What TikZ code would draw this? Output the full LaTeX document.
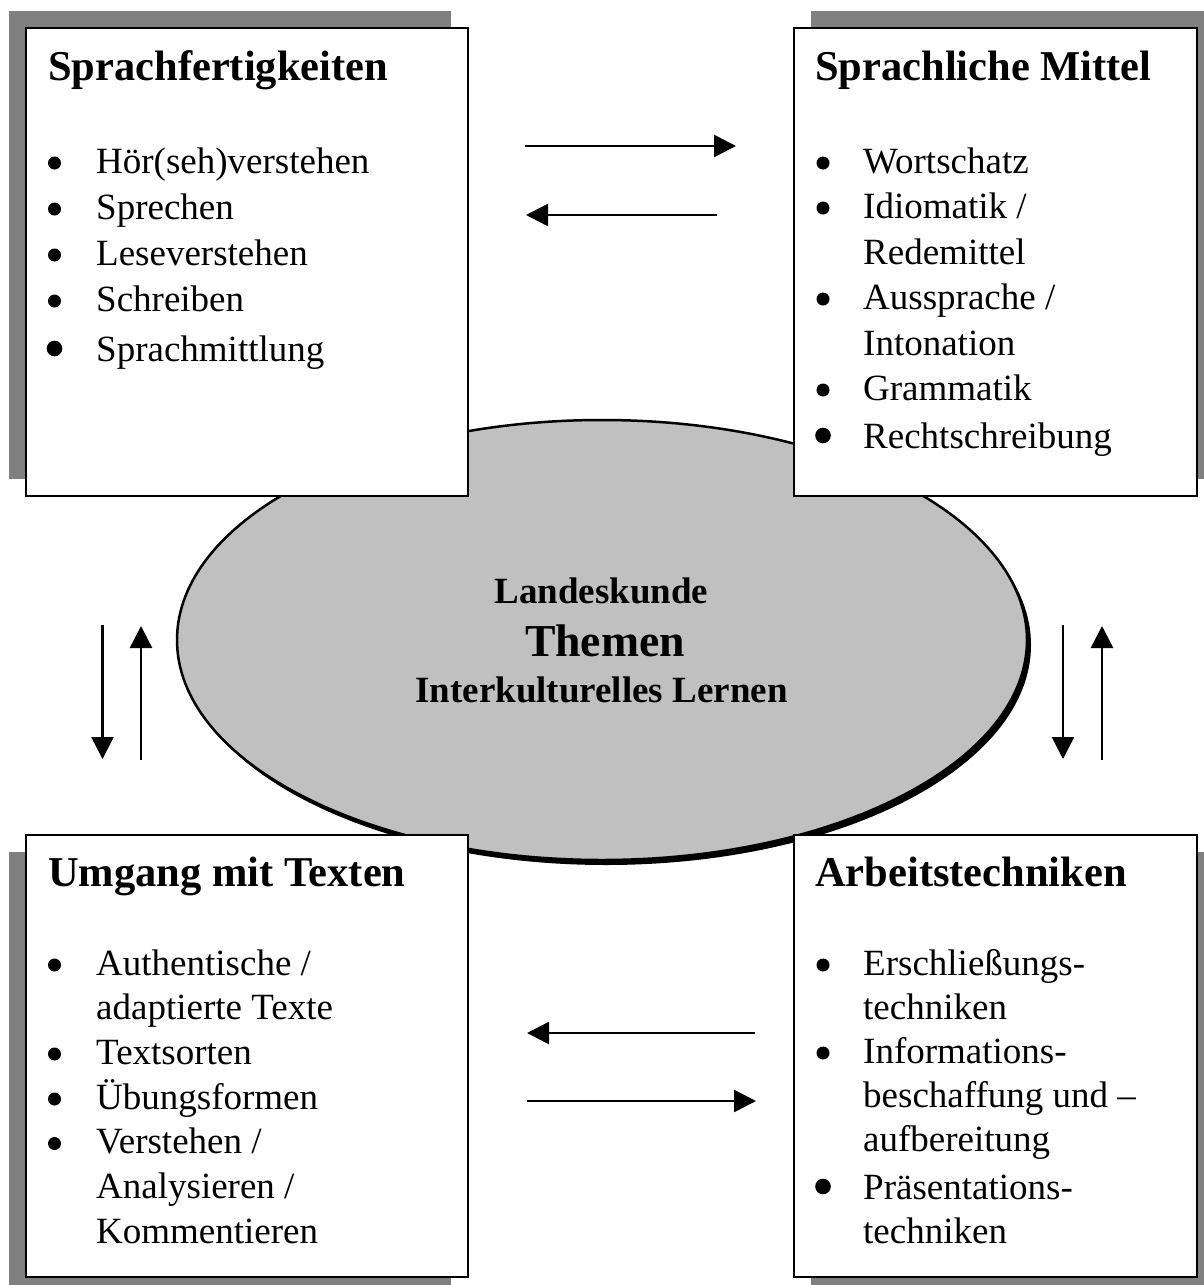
\documentclass[tikz,border=0pt]{standalone}
\usepackage{fontspec}
\setmainfont{Liberation Serif}
\usetikzlibrary{arrows.meta}
\definecolor{shadowgray}{HTML}{808080}
\definecolor{ellgray}{HTML}{C0C0C0}
\tikzset{
  boxshadow/.style={fill=shadowgray, draw=none},
  boxframe/.style={fill=white, draw=black, line width=1.5pt},
  title/.style={anchor=base west, inner sep=0pt, font=\fontsize{42.5}{50}\selectfont\bfseries},
  item/.style={anchor=base west, inner sep=0pt, font=\fontsize{37}{46}\selectfont},
  ctext/.style={anchor=base, inner sep=0pt, font=\fontsize{37}{46}\selectfont\bfseries},
  bigtext/.style={anchor=base, inner sep=0pt, font=\fontsize{45.7}{52}\selectfont\bfseries},
  flow/.style={line width=2.5pt, -{Triangle[length=22pt,width=22pt]}},
}
\begin{document}
\begin{tikzpicture}[x=1pt,y=-1pt]
\useasboundingbox (0,0) rectangle (1204,1285);
\clip (0,0) rectangle (1204,1285);
\fill[white] (0,0) rectangle (1204,1285);

% central ellipse
\fill[black] (606,645) ellipse [x radius=425, y radius=220];
\draw[fill=ellgray, draw=black, line width=2.5pt] (602,640) ellipse [x radius=425, y radius=220];
\node[ctext] (landeskunde) at (601.5,603) {Landeskunde};
\node[bigtext] (themen) at (605,656) {Themen};
\node[ctext] (interkult) at (601.5,702) {Interkulturelles Lernen};

% shadows
\path[boxshadow] (9,11) rectangle (451,479);
\path[boxshadow] (811,11) rectangle (1214,479);
\path[boxshadow] (9,852) rectangle (451,1294);
\path[boxshadow] (811,852) rectangle (1214,1294);

% boxes
\path[boxframe] (26,28) rectangle (468,496);
\path[boxframe] (794,28) rectangle (1197,496);
\path[boxframe] (26,835) rectangle (468,1277);
\path[boxframe] (794,835) rectangle (1197,1277);

% top-left box
\node[title] (t1) at (48,80) {Sprachfertigkeiten};
\node[item] (a1) at (96,173) {Hör(seh)verstehen};
\node[item] (a2) at (96,219) {Sprechen};
\node[item] (a3) at (96,265) {Leseverstehen};
\node[item] (a4) at (96,311) {Schreiben};
\node[item] (a5) at (96,361) {Sprachmittlung};
\foreach \yy in {173,219,265,311} \fill (54.5,\yy-10) circle (6.5);
\fill (54.5,361-12.5) circle (7.8);

% top-right box
\node[title] (t2) at (815,80) {Sprachliche Mittel};
\node[item] (b1) at (863,173) {Wortschatz};
\node[item] (b2) at (863,218) {Idiomatik /};
\node[item] (b3) at (863,264) {Redemittel};
\node[item] (b4) at (863,309) {Aussprache /};
\node[item] (b5) at (863,355) {Intonation};
\node[item] (b6) at (863,400) {Grammatik};
\node[item] (b7) at (863,448) {Rechtschreibung};
\foreach \yy in {173,218,309,400} \fill (823,\yy-10) circle (6.5);
\fill (823,448-12.5) circle (7.8);

% bottom-left box
\node[title] (t3) at (48,886) {Umgang mit Texten};
\node[item] (c1) at (96,975) {Authentische /};
\node[item] (c2) at (96,1019.5) {adaptierte Texte};
\node[item] (c3) at (96,1064) {Textsorten};
\node[item] (c4) at (96,1109) {Übungsformen};
\node[item] (c5) at (96,1153.5) {Verstehen /};
\node[item] (c6) at (96,1198) {Analysieren /};
\node[item] (c7) at (96,1243) {Kommentieren};
\foreach \yy in {975,1064,1109,1153.5} \fill (54.5,\yy-10) circle (6.5);

% bottom-right box
\node[title] (t4) at (815,886) {Arbeitstechniken};
\node[item] (d1) at (863,975) {Erschließungs-};
\node[item] (d2) at (863,1019) {techniken};
\node[item] (d3) at (863,1063) {Informations-};
\node[item] (d4) at (863,1107) {beschaffung und –};
\node[item] (d5) at (863,1151) {aufbereitung};
\node[item] (d6) at (863,1199) {Präsentations-};
\node[item] (d7) at (863,1243) {techniken};
\foreach \yy in {975,1063} \fill (823,\yy-10) circle (6.5);
\fill (823,1199-12.5) circle (7.8);

% arrow end points
\coordinate (p1s) at (525,146); \coordinate (p1e) at (736,146);
\coordinate (p2s) at (717,215); \coordinate (p2e) at (526,215);
\coordinate (p3s) at (755,1033); \coordinate (p3e) at (527,1033);
\coordinate (p4s) at (527,1101); \coordinate (p4e) at (756,1101);
\coordinate (p5s) at (102.5,625); \coordinate (p5e) at (102.5,759);
\coordinate (p6s) at (141,760); \coordinate (p6e) at (141,626);
\coordinate (p7s) at (1063,625); \coordinate (p7e) at (1063,759);
\coordinate (p8s) at (1102,760); \coordinate (p8e) at (1102,626);

\draw[flow] (p1s) -- (p1e);
\draw[flow] (p2s) -- (p2e);
\draw[flow] (p3s) -- (p3e);
\draw[flow] (p4s) -- (p4e);
\draw[flow] (p5s) -- (p5e);
\draw[flow] (p6s) -- (p6e);
\draw[flow] (p7s) -- (p7e);
\draw[flow] (p8s) -- (p8e);
\end{tikzpicture}
\end{document}
